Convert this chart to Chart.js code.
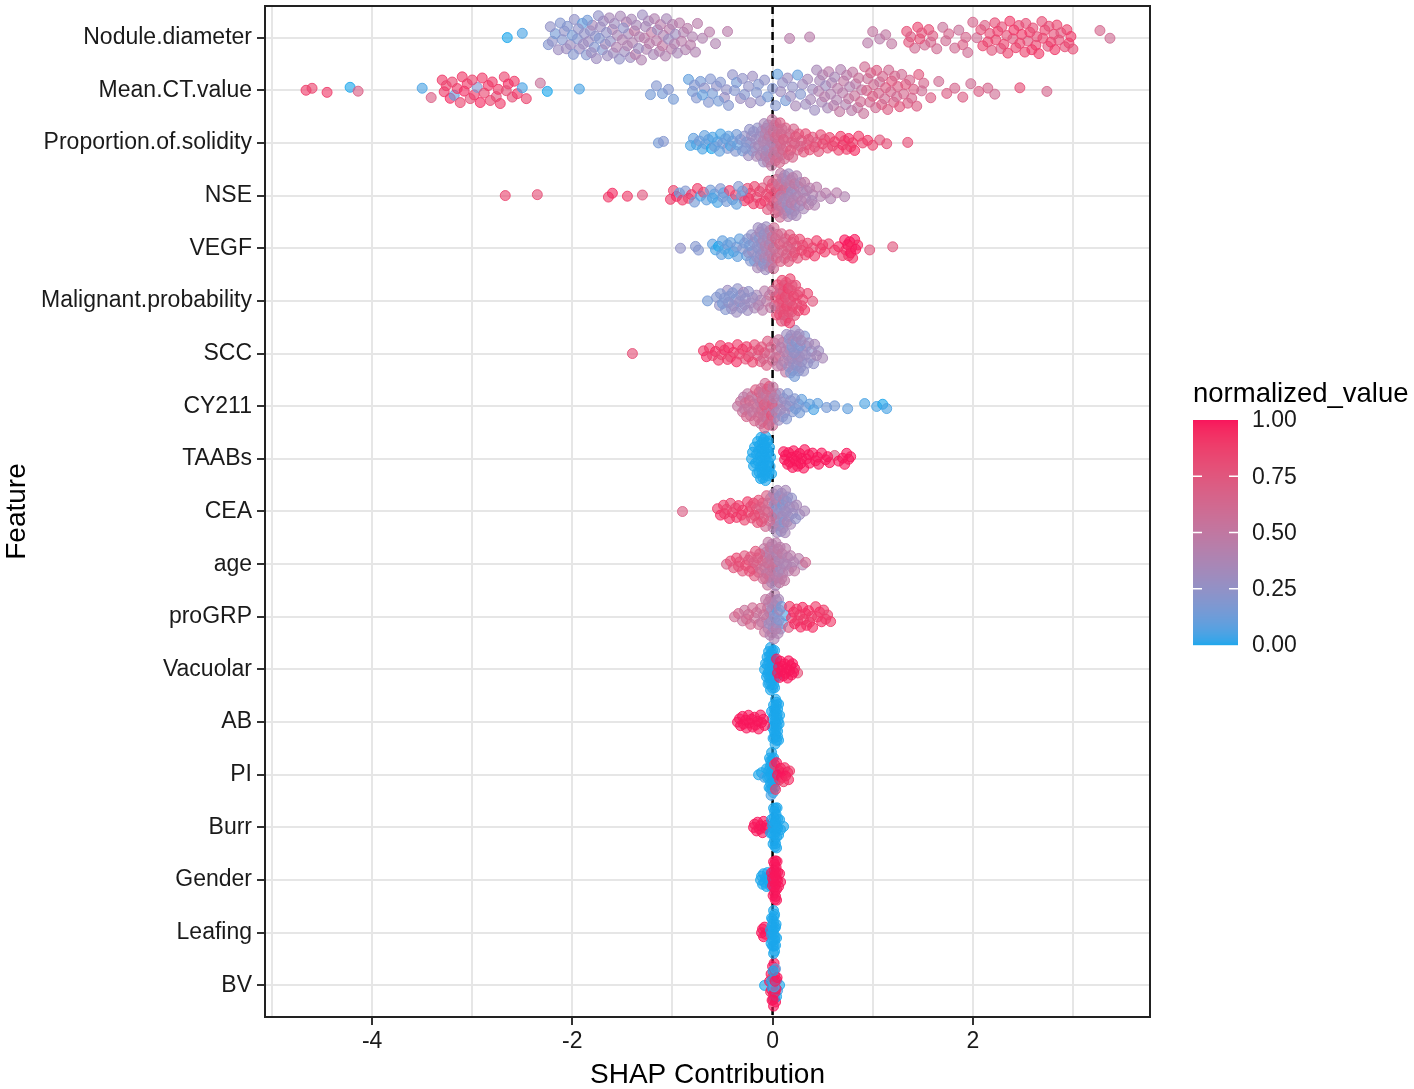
<!DOCTYPE html>
<html>
<head>
<meta charset="utf-8">
<script src="https://cdn.jsdelivr.net/npm/chart.js@4.4.1/dist/chart.umd.min.js"></script>
<style>
html,body{margin:0;padding:0;background:#ffffff;}
#wrap{width:1414px;height:1089px;position:relative;overflow:hidden;}
</style>
</head>
<body>
<div id="wrap"><canvas id="c" width="1414" height="1089"></canvas></div>
<script>
// ---------------- DATA ----------------
const featureNames = ["Nodule.diameter","Mean.CT.value","Proportion.of.solidity","NSE","VEGF",
  "Malignant.probability","SCC","CY211","TAABs","CEA","age","proGRP","Vacuolar","AB","PI",
  "Burr","Gender","Leafing","BV"];

const xTickLabels = [-4,-2,0,2];
const xGridValues = [-5,-4,-3,-2,-1,0,1,2,3];
const legendTickValues = [0,0.25,0.5,0.75,1];
const legendTickLabels = ["0.00","0.25","0.50","0.75","1.00"];

// each point: [SHAP contribution, normalized feature value]
const noduleDiameter = [[-2.65,0],[-2.50,0.05],[-2.24,0.2],[-2.20,0.25],[-2.17,0.15],[-2.14,0.3],[-2.10,0.2],[-2.08,0.25],[-2.05,0.2],[-2.02,0.3],[-2.00,0.15],[-1.98,0.25],[-1.95,0.2],[-1.93,0.3],[-1.90,0.1],[-1.88,0.25],[-1.86,0.2],[-1.84,0.3],[-1.82,0.25],[-1.80,0.35],[-1.78,0.2],[-1.76,0.3],[-1.74,0.25],[-1.72,0.3],[-1.70,0.2],[-1.67,0.35],[-1.65,0.3],[-1.62,0.25],[-1.60,0.4],[-1.58,0.3],[-1.55,0.35],[-1.53,0.25],[-1.50,0.4],[-1.48,0.3],[-1.46,0.45],[-1.44,0.35],[-1.42,0.3],[-1.40,0.4],[-1.38,0.5],[-1.36,0.35],[-1.33,0.4],[-1.30,0.3],[-1.28,0.45],[-1.26,0.4],[-1.24,0.35],[-1.21,0.5],[-1.18,0.4],[-1.15,0.3],[-1.12,0.45],[-1.09,0.4],[-1.06,0.35],[-1.03,0.45],[-1.00,0.4],[-0.97,0.3],[-0.93,0.45],[-0.89,0.4],[-0.85,0.45],[-0.80,0.4],[-0.75,0.45],[-0.70,0.4],[-0.63,0.45],[-0.57,0.4],[-0.45,0.45],
 [-2.22,0.25],[-2.12,0.2],[-2.06,0.3],[-1.99,0.2],[-1.94,0.25],[-1.89,0.3],[-1.85,0.15],[-1.81,0.3],[-1.77,0.25],[-1.73,0.2],[-1.69,0.3],[-1.66,0.25],[-1.63,0.35],[-1.59,0.3],[-1.56,0.4],[-1.52,0.35],[-1.49,0.25],[-1.45,0.4],[-1.41,0.35],[-1.37,0.45],[-1.34,0.3],[-1.31,0.4],[-1.27,0.35],[-1.23,0.45],[-1.19,0.35],[-1.16,0.45],[-1.13,0.4],[-1.10,0.5],[-1.07,0.4],[-1.04,0.3],[-1.01,0.45],[-0.98,0.4],[-0.95,0.35],[-0.91,0.45],[-0.87,0.4],[-0.82,0.45],[-0.77,0.4],
 [0.17,0.45],[0.37,0.45],[0.95,0.45],[1.00,0.5],[1.07,0.45],[1.13,0.5],[1.19,0.5],[1.34,0.8],[1.38,0.7],[1.42,0.6],[1.45,0.85],[1.49,0.75],[1.52,0.6],[1.56,0.8],[1.60,0.7],[1.64,0.6],[1.70,0.55],[1.76,0.65],[1.82,0.6],[1.86,0.55],[1.90,0.7],[1.95,0.6],[2.00,0.65],[2.04,0.6],[2.08,0.8],[2.12,0.7],[2.15,0.85],[2.19,0.75],[2.22,0.8],[2.25,0.9],[2.28,0.7],[2.31,0.85],[2.34,0.8],[2.37,0.9],[2.40,0.75],[2.43,0.85],[2.46,0.8],[2.49,0.9],[2.52,0.85],[2.55,0.75],[2.57,0.9],[2.60,0.8],[2.63,0.85],[2.66,0.9],[2.69,0.8],[2.72,0.85],[2.75,0.75],[2.78,0.9],[2.81,0.8],[2.84,0.85],[2.88,0.75],[2.92,0.8],[2.96,0.85],[3.00,0.8],[3.27,0.65],[3.37,0.6],
 [1.36,0.75],[1.47,0.8],[1.58,0.65],[1.73,0.6],[1.93,0.65],[2.10,0.85],[2.17,0.8],[2.23,0.85],[2.29,0.8],[2.35,0.85],[2.41,0.9],[2.47,0.85],[2.53,0.8],[2.59,0.9],[2.64,0.8],[2.70,0.85],[2.76,0.8],[2.82,0.9],[2.86,0.8],[2.94,0.85],[2.98,0.9]];

const meanCTValue = [[-4.66,0.9],[-4.60,0.85],[-4.45,0.9],[-4.22,0],[-4.14,0.7],
 [-3.50,0.05],[-3.41,0.7],[-3.30,0.9],[-3.26,0.85],[-3.22,0.95],[-3.18,0.1],[-3.15,0.9],[-3.12,0.85],[-3.08,0.95],[-3.05,0.9],[-3.02,0.8],[-2.98,0.9],[-2.95,0.2],[-2.92,0.95],[-2.88,0.85],[-2.84,0.9],[-2.80,0.9],[-2.76,0.75],[-2.72,0.9],[-2.68,0.85],[-2.64,0.95],[-2.60,0.8],[-2.55,0.9],[-2.50,0.05],[-2.46,0.85],[-2.32,0.55],[-2.25,0],[-1.93,0.05],
 [-3.28,0.9],[-3.20,0.85],[-3.10,0.9],[-3.00,0.85],[-2.90,0.9],[-2.82,0.85],[-2.74,0.9],[-2.66,0.8],[-2.58,0.9],
 [-1.22,0.15],[-1.16,0.2],[-1.10,0.15],[-1.04,0.2],[-0.99,0.15],[-0.84,0.1],[-0.80,0.15],[-0.76,0.2],[-0.72,0.15],[-0.68,0.25],[-0.64,0.2],[-0.60,0.15],[-0.56,0.25],[-0.52,0.2],[-0.48,0.3],[-0.44,0.2],[-0.40,0.25],[-0.36,0.15],[-0.32,0.3],[-0.28,0.2],[-0.24,0.25],[-0.20,0.3],[-0.16,0.2],[-0.12,0.25],[-0.05,0.15],[0.00,0.2],[0.05,0.1],[0.10,0.25],[0.15,0.3],[0.20,0.25],[0.25,0.1],[0.30,0.3],[0.35,0.35],[0.40,0.3],[0.44,0.35],
 [-0.78,0.2],[-0.70,0.1],[-0.62,0.2],[-0.54,0.15],[-0.46,0.25],[-0.38,0.2],[-0.30,0.25],[-0.22,0.3],[-0.14,0.2],[-0.08,0.25],[0.03,0.2],[0.08,0.3],[0.13,0.15],[0.18,0.3],[0.23,0.35],[0.28,0.2],[0.33,0.3],[0.38,0.35],[0.42,0.3],
 [0.47,0.35],[0.50,0.4],[0.53,0.3],[0.56,0.45],[0.59,0.4],[0.62,0.35],[0.65,0.45],[0.68,0.4],[0.71,0.5],[0.74,0.45],[0.77,0.4],[0.80,0.5],[0.83,0.45],[0.86,0.55],[0.89,0.5],[0.92,0.6],[0.95,0.55],[0.98,0.65],[1.01,0.6],[1.04,0.7],[1.07,0.55],[1.10,0.65],[1.13,0.7],[1.16,0.6],[1.19,0.75],[1.22,0.65],[1.25,0.7],[1.29,0.6],[1.33,0.75],[1.37,0.65],[1.41,0.7],[1.46,0.75],[1.51,0.65],[1.58,0.7],[1.66,0.6],[1.74,0.7],[1.82,0.65],[1.90,0.7],[1.98,0.6],[2.06,0.7],[2.15,0.65],[2.22,0.6],[2.47,0.8],[2.74,0.65],
 [0.46,0.4],[0.49,0.35],[0.52,0.45],[0.55,0.35],[0.58,0.4],[0.61,0.45],[0.64,0.4],[0.67,0.5],[0.70,0.45],[0.73,0.4],[0.76,0.5],[0.79,0.45],[0.82,0.55],[0.85,0.5],[0.88,0.6],[0.91,0.55],[0.94,0.65],[0.97,0.6],[1.00,0.7],[1.03,0.6],[1.06,0.65],[1.09,0.7],[1.12,0.6],[1.15,0.7],[1.18,0.65],[1.21,0.7],[1.24,0.6],[1.27,0.75],[1.31,0.65],[1.35,0.7],[1.39,0.65],[1.44,0.7],[1.49,0.6]];

const proportionOfSolidity = [[-1.14,0.15],[-1.09,0.2],[-0.82,0.05],[-0.79,0.1],[-0.76,0.05],[-0.73,0.15],[-0.70,0.05],[-0.67,0.1],[-0.64,0.1],[-0.61,0],[-0.58,0.15],[-0.55,0.1],[-0.52,0.05],[-0.50,0.15],[-0.47,0.1],[-0.45,0.2],[-0.42,0.05],[-0.40,0.15],[-0.37,0.2],[-0.35,0.1],[-0.32,0.2],[-0.30,0.15],[-0.28,0.25],[-0.26,0.2],[-0.24,0.3],[-0.22,0.25],[-0.20,0.2],[-0.18,0.3],[-0.16,0.35],[-0.15,0.25],[-0.13,0.3],[-0.12,0.4],[-0.10,0.35],[-0.09,0.3],[-0.08,0.4],[-0.07,0.45],[-0.06,0.35],[-0.05,0.4],[-0.04,0.3],[-0.03,0.45],[-0.02,0.4],[-0.01,0.5],[0.00,0.45],[0.01,0.55],[0.02,0.5],[0.03,0.6],[0.04,0.55],[0.05,0.6],[0.06,0.5],[0.07,0.65],[0.08,0.6],[0.09,0.55],[0.10,0.65],[0.12,0.6],[0.13,0.7],[0.15,0.65],[0.17,0.6],[0.19,0.7],[0.21,0.65],[0.23,0.75],[0.25,0.7],[0.28,0.65],[0.31,0.75],[0.34,0.7],[0.37,0.8],[0.40,0.75],[0.44,0.7],[0.48,0.8],[0.52,0.75],[0.57,0.85],[0.62,0.9],[0.66,0.85],[0.70,0.95],[0.74,0.9],[0.78,0.85],[0.82,0.95],[0.86,0.9],[0.90,0.85],[0.95,0.9],[1.00,0.85],[1.07,0.75],[1.14,0.8],[1.35,0.8],
 [-0.27,0.2],[-0.23,0.25],[-0.21,0.3],[-0.19,0.25],[-0.17,0.3],[-0.14,0.35],[-0.11,0.3],[-0.095,0.4],[-0.085,0.35],[-0.075,0.4],[-0.065,0.45],[-0.055,0.4],[-0.045,0.35],[-0.035,0.5],[-0.025,0.45],[-0.015,0.4],[-0.005,0.5],[0.005,0.55],[0.015,0.5],[0.025,0.6],[0.035,0.55],[0.045,0.65],[0.055,0.55],[0.065,0.6],[0.075,0.7],[0.085,0.65],[0.095,0.6],[0.11,0.7],[0.14,0.65],[0.16,0.7],[0.18,0.75],[0.20,0.65],[0.22,0.7],[0.26,0.75],[0.29,0.7],[0.33,0.8],[0.36,0.75],[-0.36,0.15],[-0.44,0.1],[-0.53,0.1],[-0.60,0.05],[-0.68,0.1],[0.42,0.8],[0.46,0.75],[0.50,0.85],[0.55,0.8],[0.60,0.85],[0.68,0.9],[0.72,0.85],[0.76,0.95],[0.80,0.9]];

const nse = [[-2.67,0.85],[-2.35,0.8],[-1.64,0.9],[-1.60,0.95],[-1.45,0.9],[-1.30,0.75],
 [-1.02,0.9],[-0.99,0.85],[-0.96,0.95],[-0.93,0.1],[-0.90,0.9],[-0.87,0.2],[-0.84,0.85],[-0.81,0.9],[-0.78,0.15],[-0.75,0.9],[-0.72,0.05],[-0.69,0.85],[-0.66,0.1],[-0.62,0.15],[-0.58,0.1],[-0.55,0.05],[-0.52,0.2],[-0.49,0.1],[-0.46,0.15],[-0.43,0.9],[-0.40,0.1],[-0.37,0.85],[-0.34,0.2],[-0.31,0.15],[-0.28,0.9],[-0.25,0.8],[-0.22,0.85],[-0.19,0.9],[-0.16,0.8],[-0.13,0.85],[-0.10,0.75],[-0.08,0.9],[-0.06,0.8],[-0.04,0.7],[-0.02,0.85],[0.00,0.75],[0.02,0.8],[0.04,0.65],[0.05,0.7],[0.06,0.55],[0.07,0.75],[0.08,0.5],[0.09,0.6],[0.10,0.45],[0.11,0.7],[0.12,0.4],[0.13,0.55],[0.14,0.35],[0.15,0.6],[0.16,0.3],[0.17,0.5],[0.18,0.4],[0.19,0.25],[0.20,0.45],[0.21,0.35],[0.22,0.5],[0.23,0.3],[0.24,0.4],[0.26,0.45],[0.28,0.35],[0.30,0.4],[0.32,0.5],[0.34,0.35],[0.37,0.45],[0.40,0.4],[0.44,0.45],[0.48,0.4],[0.53,0.45],[0.58,0.4],[0.64,0.45],[0.72,0.4],
 [-0.05,0.75],[-0.03,0.85],[-0.01,0.7],[0.01,0.8],[0.03,0.7],[0.045,0.6],[0.055,0.65],[0.065,0.5],[0.075,0.6],[0.085,0.45],[0.095,0.55],[0.105,0.4],[0.115,0.5],[0.125,0.35],[0.135,0.45],[0.145,0.3],[0.155,0.4],[0.165,0.35],[0.175,0.25],[0.185,0.45],[0.195,0.3],[0.205,0.4],[0.215,0.3],[0.225,0.45],[0.235,0.35],[0.25,0.4],[0.27,0.3],[0.29,0.45],[0.31,0.35],[0.33,0.4],[0.36,0.45],[0.39,0.35],[0.42,0.4],[-0.12,0.9],[-0.18,0.85],[-0.24,0.9],[-0.30,0.15],[-0.36,0.1],[-0.50,0.15],[-0.60,0.05]];

const vegf = [[-0.92,0.25],[-0.77,0.2],[-0.74,0.2],[-0.60,0.1],[-0.57,0.05],[-0.54,0],[-0.51,0.1],[-0.48,0.05],[-0.45,0.15],[-0.42,0.1],[-0.39,0.05],[-0.36,0.15],[-0.33,0.1],[-0.30,0.2],[-0.28,0.15],[-0.26,0.1],[-0.24,0.25],[-0.22,0.2],[-0.20,0.3],[-0.18,0.15],[-0.16,0.25],[-0.15,0.35],[-0.14,0.2],[-0.13,0.3],[-0.12,0.25],[-0.11,0.35],[-0.10,0.3],[-0.09,0.2],[-0.08,0.4],[-0.07,0.3],[-0.06,0.35],[-0.05,0.25],[-0.04,0.4],[-0.03,0.35],[-0.02,0.45],[-0.01,0.4],[0.00,0.5],[0.01,0.6],[0.02,0.55],[0.04,0.65],[0.06,0.6],[0.08,0.7],[0.10,0.65],[0.12,0.6],[0.14,0.7],[0.16,0.75],[0.18,0.65],[0.20,0.7],[0.22,0.8],[0.24,0.75],[0.27,0.85],[0.30,0.8],[0.33,0.85],[0.36,0.9],[0.40,0.85],[0.44,0.9],[0.48,0.85],[0.52,0.9],[0.56,0.85],[0.62,0.9],[0.66,0.95],[0.70,0.9],[0.72,1],[0.73,0.95],[0.75,1],[0.76,0.9],[0.78,1],[0.80,0.95],[0.82,1],[0.85,0.95],[0.97,0.75],[1.20,0.75],
 [-0.25,0.2],[-0.23,0.15],[-0.21,0.25],[-0.19,0.2],[-0.17,0.3],[-0.155,0.25],[-0.145,0.3],[-0.135,0.2],[-0.125,0.35],[-0.115,0.25],[-0.105,0.3],[-0.095,0.35],[-0.085,0.25],[-0.075,0.4],[-0.065,0.3],[-0.055,0.35],[-0.045,0.3],[-0.035,0.45],[-0.025,0.4],[-0.015,0.35],[-0.005,0.5],[0.005,0.55],[0.015,0.6],[0.03,0.65],[0.05,0.6],[0.07,0.7],[0.09,0.65],[0.11,0.7],[0.13,0.65],[0.15,0.7],[0.17,0.75],[0.19,0.7],[0.21,0.8],[0.25,0.8],[0.29,0.85],[0.35,0.85],[0.42,0.9],[0.50,0.9],[-0.35,0.1],[-0.44,0.05],[-0.50,0.1],[0.77,1],[0.79,0.95],[0.83,1]];

const malignantProbability = [[-0.65,0.15],[-0.56,0.2],[-0.53,0.25],[-0.50,0.15],[-0.47,0.2],[-0.45,0.3],[-0.43,0.2],[-0.41,0.25],[-0.39,0.3],[-0.37,0.2],[-0.35,0.25],[-0.33,0.3],[-0.31,0.2],[-0.29,0.35],[-0.27,0.25],[-0.25,0.3],[-0.22,0.3],[-0.18,0.35],[-0.14,0.4],[-0.10,0.45],[-0.06,0.5],[-0.03,0.55],[0.02,0.7],[0.04,0.8],[0.06,0.75],[0.07,0.85],[0.08,0.7],[0.09,0.8],[0.10,0.75],[0.11,0.85],[0.12,0.8],[0.13,0.7],[0.14,0.85],[0.15,0.75],[0.16,0.8],[0.17,0.9],[0.18,0.7],[0.19,0.8],[0.20,0.85],[0.22,0.75],[0.24,0.8],[0.26,0.85],[0.29,0.8],[0.32,0.9],[0.35,0.85],[0.40,0.75],
 [0.03,0.75],[0.05,0.8],[0.065,0.85],[0.075,0.75],[0.085,0.8],[0.095,0.85],[0.105,0.7],[0.115,0.8],[0.125,0.85],[0.135,0.75],[0.145,0.8],[0.155,0.9],[0.165,0.75],[0.175,0.85],[0.185,0.8],[0.195,0.75],[0.21,0.85],[0.23,0.8],[0.25,0.85],[0.27,0.8],[0.30,0.85],[0.00,0.6],[-0.02,0.5],[-0.08,0.45],[-0.12,0.4],[-0.16,0.35],[-0.20,0.3],[-0.24,0.25],[-0.28,0.3],[-0.32,0.25],[-0.36,0.3],[-0.40,0.2],[-0.44,0.25],[-0.48,0.2],[-0.52,0.2]];

const scc = [[-1.40,0.8],[-0.69,0.9],[-0.66,0.95],[-0.63,0.9],[-0.60,0.85],[-0.57,0.95],[-0.54,0.9],[-0.51,0.85],[-0.48,0.95],[-0.45,0.9],[-0.42,0.85],[-0.39,0.9],[-0.36,0.95],[-0.33,0.85],[-0.30,0.9],[-0.27,0.8],[-0.24,0.85],[-0.21,0.75],[-0.18,0.8],[-0.15,0.7],[-0.12,0.75],[-0.09,0.65],[-0.06,0.7],[-0.03,0.6],[0.00,0.65],[0.03,0.55],[0.05,0.5],[0.07,0.6],[0.09,0.45],[0.11,0.4],[0.13,0.5],[0.15,0.35],[0.16,0.3],[0.17,0.4],[0.18,0.2],[0.19,0.35],[0.20,0.25],[0.21,0.3],[0.22,0.15],[0.23,0.35],[0.24,0.25],[0.25,0.3],[0.26,0.2],[0.27,0.35],[0.28,0.25],[0.30,0.3],[0.32,0.2],[0.34,0.35],[0.36,0.3],[0.39,0.25],[0.42,0.35],[0.46,0.3],[0.50,0.35],
 [0.10,0.4],[0.12,0.45],[0.14,0.3],[0.155,0.35],[0.165,0.25],[0.175,0.35],[0.185,0.3],[0.195,0.2],[0.205,0.35],[0.215,0.25],[0.225,0.3],[0.235,0.2],[0.245,0.35],[0.255,0.25],[0.265,0.3],[0.275,0.2],[0.285,0.35],[0.29,0.3],[0.31,0.25],[0.33,0.3],[0.35,0.25],[0.38,0.3],[0.41,0.25],[0.44,0.35],[0.02,0.6],[0.04,0.55],[0.06,0.5],[0.08,0.45],[-0.02,0.65],[-0.05,0.7],[-0.08,0.7],[-0.11,0.75],[-0.14,0.8],[-0.20,0.85],[-0.26,0.9],[-0.35,0.9],[-0.44,0.95],[-0.52,0.9]];

const cy211 = [[-0.35,0.5],[-0.32,0.55],[-0.29,0.45],[-0.27,0.6],[-0.25,0.5],[-0.23,0.65],[-0.21,0.55],[-0.19,0.6],[-0.17,0.7],[-0.15,0.5],[-0.13,0.65],[-0.12,0.55],[-0.11,0.7],[-0.10,0.6],[-0.09,0.5],[-0.08,0.65],[-0.07,0.75],[-0.06,0.55],[-0.05,0.6],[-0.04,0.7],[-0.03,0.5],[-0.02,0.65],[-0.01,0.8],[0.00,0.55],[0.01,0.45],[0.02,0.6],[0.03,0.35],[0.05,0.4],[0.07,0.3],[0.09,0.35],[0.11,0.25],[0.13,0.3],[0.15,0.2],[0.17,0.25],[0.20,0.2],[0.23,0.15],[0.26,0.2],[0.29,0.1],[0.33,0.15],[0.37,0.1],[0.41,0.05],[0.45,0.1],[0.54,0.15],[0.62,0.15],[0.75,0.1],[0.92,0.05],[1.04,0.05],[1.10,0],[1.14,0.05],
 [-0.30,0.55],[-0.28,0.5],[-0.26,0.65],[-0.24,0.55],[-0.22,0.6],[-0.20,0.5],[-0.18,0.65],[-0.16,0.55],[-0.145,0.6],[-0.135,0.7],[-0.125,0.5],[-0.115,0.6],[-0.105,0.65],[-0.095,0.55],[-0.085,0.7],[-0.075,0.6],[-0.065,0.5],[-0.055,0.65],[-0.045,0.6],[-0.035,0.75],[-0.025,0.55],[-0.015,0.6],[-0.005,0.7],[0.005,0.5],[0.015,0.4],[0.04,0.35],[0.06,0.3],[0.08,0.35],[0.10,0.25],[0.12,0.3],[0.14,0.2],[0.18,0.25],[0.22,0.2],[0.27,0.15]];

const taabs = [[-0.21,0],[-0.19,0],[-0.17,0],[-0.16,0],[-0.15,0],[-0.14,0],[-0.13,0],[-0.12,0],[-0.12,0],[-0.11,0],[-0.11,0],[-0.10,0],[-0.10,0],[-0.09,0],[-0.09,0],[-0.08,0],[-0.08,0],[-0.07,0],[-0.07,0],[-0.06,0],[-0.06,0],[-0.05,0],[-0.05,0],[-0.04,0],[-0.03,0],[-0.02,0],[-0.01,0],
 [-0.20,0],[-0.18,0],[-0.155,0],[-0.145,0],[-0.135,0],[-0.125,0],[-0.115,0],[-0.105,0],[-0.095,0],[-0.085,0],[-0.075,0],[-0.065,0],[-0.055,0],[-0.045,0],[-0.035,0],[-0.025,0],[-0.10,0],[-0.08,0],[-0.06,0],[-0.04,0],
 [0.11,1],[0.13,1],[0.15,1],[0.17,1],[0.19,1],[0.21,1],[0.23,1],[0.25,1],[0.27,1],[0.29,1],[0.31,1],[0.34,1],[0.37,1],[0.40,1],[0.43,1],[0.46,1],[0.49,1],[0.53,1],[0.57,1],[0.62,0.7],[0.66,1],[0.70,1],[0.74,1],[0.78,1],
 [0.12,1],[0.16,1],[0.20,1],[0.24,1],[0.28,1],[0.32,1],[0.36,1],[0.45,1],[0.55,1],[0.72,1],[0.76,1]];

const cea = [[-0.90,0.7],[-0.55,0.9],[-0.52,0.95],[-0.49,0.9],[-0.46,0.85],[-0.43,0.95],[-0.40,0.9],[-0.37,0.85],[-0.34,0.9],[-0.31,0.95],[-0.28,0.85],[-0.25,0.9],[-0.22,0.8],[-0.19,0.85],[-0.16,0.75],[-0.14,0.8],[-0.12,0.7],[-0.10,0.75],[-0.08,0.65],[-0.06,0.7],[-0.04,0.6],[-0.02,0.55],[0.00,0.5],[0.01,0.4],[0.02,0.3],[0.03,0.45],[0.04,0.2],[0.05,0.35],[0.06,0.4],[0.07,0.25],[0.08,0.35],[0.09,0.3],[0.10,0.15],[0.11,0.4],[0.12,0.3],[0.13,0.35],[0.14,0.2],[0.15,0.3],[0.17,0.35],[0.19,0.25],[0.21,0.3],[0.24,0.35],[0.27,0.3],[0.32,0.35],
 [0.005,0.4],[0.015,0.35],[0.025,0.4],[0.035,0.3],[0.045,0.35],[0.055,0.25],[0.065,0.4],[0.075,0.3],[0.085,0.25],[0.095,0.35],[0.105,0.3],[0.115,0.2],[0.125,0.35],[0.135,0.3],[0.145,0.4],[0.16,0.3],[0.18,0.35],[0.20,0.3],[0.23,0.25],[-0.01,0.5],[-0.03,0.6],[-0.05,0.65],[-0.07,0.6],[-0.09,0.7],[-0.11,0.75],[-0.13,0.7],[-0.15,0.8],[-0.18,0.85],[-0.21,0.8],[-0.24,0.85],[-0.30,0.9],[-0.36,0.9],[-0.42,0.85],[-0.48,0.9]];

const age = [[-0.46,0.65],[-0.42,0.8],[-0.39,0.75],[-0.36,0.85],[-0.33,0.8],[-0.30,0.75],[-0.27,0.85],[-0.24,0.8],[-0.22,0.7],[-0.20,0.8],[-0.18,0.75],[-0.16,0.65],[-0.14,0.7],[-0.12,0.6],[-0.10,0.65],[-0.08,0.55],[-0.07,0.6],[-0.06,0.5],[-0.05,0.55],[-0.04,0.45],[-0.03,0.6],[-0.02,0.5],[-0.01,0.4],[0.00,0.55],[0.01,0.45],[0.02,0.5],[0.03,0.35],[0.04,0.55],[0.05,0.45],[0.06,0.4],[0.07,0.5],[0.08,0.3],[0.09,0.45],[0.10,0.4],[0.12,0.5],[0.14,0.35],[0.16,0.45],[0.19,0.4],[0.22,0.5],[0.26,0.45],[0.30,0.4],[0.33,0.6],
 [-0.095,0.6],[-0.085,0.5],[-0.075,0.55],[-0.065,0.45],[-0.055,0.6],[-0.045,0.5],[-0.035,0.45],[-0.025,0.55],[-0.015,0.5],[-0.005,0.45],[0.005,0.5],[0.015,0.4],[0.025,0.55],[0.035,0.45],[0.045,0.4],[0.055,0.5],[0.065,0.35],[0.075,0.45],[0.085,0.4],[0.095,0.5],[0.11,0.4],[0.13,0.45],[0.15,0.4],[0.18,0.45],[0.21,0.4],[-0.13,0.65],[-0.15,0.7],[-0.17,0.75],[-0.19,0.7],[-0.23,0.8],[-0.28,0.75],[-0.34,0.8]];

const proGRP = [[-0.38,0.6],[-0.34,0.65],[-0.30,0.55],[-0.26,0.6],[-0.22,0.65],[-0.18,0.55],[-0.14,0.6],[-0.11,0.5],[-0.08,0.55],[-0.06,0.45],[-0.04,0.5],[-0.03,0.35],[-0.02,0.45],[-0.01,0.3],[0.00,0.4],[0.01,0.2],[0.02,0.45],[0.03,0.3],[0.04,0.4],[0.05,0.1],[0.06,0.35],[0.08,0.25],[0.10,0.1],[0.13,0.05],[0.16,0.7],[0.19,0.9],[0.22,0.95],[0.25,0.9],[0.28,0.95],[0.31,0.9],[0.34,0.95],[0.37,0.9],[0.40,0.95],[0.43,0.9],[0.47,0.95],[0.51,0.9],[0.55,0.85],[0.58,0.9],
 [-0.05,0.4],[-0.045,0.45],[-0.035,0.3],[-0.025,0.4],[-0.015,0.35],[-0.005,0.45],[0.005,0.3],[0.015,0.4],[0.025,0.25],[0.035,0.45],[0.045,0.3],[0.055,0.4],[0.065,0.2],[0.07,0.35],[0.09,0.15],[-0.07,0.5],[-0.09,0.55],[-0.12,0.6],[-0.16,0.55],[-0.20,0.6],[-0.24,0.65],[-0.28,0.55],[0.17,0.9],[0.21,0.95],[0.24,0.9],[0.27,0.9],[0.30,0.95],[0.33,0.9],[0.36,0.95],[0.39,0.9],[0.45,0.9],[0.49,0.95],[0.53,0.9]];

const vacuolar = [[-0.08,0],[-0.06,0],[-0.05,0],[-0.04,0],[-0.03,0],[-0.03,0],[-0.02,0],[-0.02,0],[-0.01,0],[-0.01,0],[0.00,0],[0.00,0],[0.01,0],[0.01,0],[0.02,0],[0.03,0],[0.04,0],
 [-0.07,0],[-0.055,0],[-0.045,0],[-0.035,0],[-0.025,0],[-0.015,0],[-0.005,0],[0.005,0],[0.015,0],[0.025,0],[-0.03,0],[-0.02,0],[-0.01,0],[0.00,0],[0.01,0],[-0.04,0],[0.02,0],[-0.05,0],
 [0.04,1],[0.06,1],[0.08,1],[0.10,1],[0.12,1],[0.14,1],[0.16,1],[0.18,1],[0.20,1],[0.22,1],[0.25,0.8],
 [0.05,1],[0.07,1],[0.09,1],[0.11,1],[0.13,1],[0.15,1],[0.17,1],[0.19,1],[0.21,1]];

const ab = [[-0.01,0],[0.00,0],[0.01,0],[0.02,0],[0.02,0],[0.03,0],[0.03,0],[0.03,0],[0.04,0],[0.04,0],[0.05,0],[0.05,0],[0.06,0],[0.07,0],
 [0.005,0],[0.015,0],[0.025,0],[0.035,0],[0.045,0],[0.055,0],[0.065,0],[0.02,0],[0.03,0],[0.04,0],[0.01,0],[0.05,0],[0.00,0],[0.06,0],[0.035,0],[0.025,0],[0.045,0],
 [-0.35,1],[-0.32,1],[-0.29,1],[-0.26,1],[-0.23,1],[-0.20,1],[-0.17,1],[-0.14,1],[-0.11,1],[-0.08,1],
 [-0.33,1],[-0.30,1],[-0.27,1],[-0.24,1],[-0.21,1],[-0.18,1],[-0.15,1],[-0.12,1],[-0.09,1]];

const pi = [[-0.14,0],[-0.11,0],[-0.08,0.05],[-0.05,0],[-0.04,0],[-0.03,0],[-0.02,0],[-0.02,0],[-0.01,0],[-0.01,0],[0.00,0],[0.00,0],[0.01,0],[0.02,0],[0.03,0.1],
 [-0.035,0],[-0.025,0],[-0.015,0],[-0.005,0],[0.005,0],[0.015,0],[-0.02,0],[-0.01,0],[0.00,0],[0.01,0],[-0.03,0],[-0.06,0],[0.025,0],[-0.015,0.05],
 [0.02,0.9],[0.04,1],[0.06,0.9],[0.08,1],[0.10,1],[0.12,0.95],[0.15,1],[0.17,0.9],
 [0.03,0.9],[0.05,1],[0.07,0.95],[0.09,1],[0.11,0.9],[0.13,1],[0.16,0.95]];

const burr = [[-0.19,1],[-0.16,1],[-0.13,1],[-0.10,1],[-0.07,1],[-0.18,1],[-0.15,1],[-0.12,1],[-0.09,1],[-0.06,1],
 [-0.02,0],[0.00,0],[0.01,0],[0.02,0],[0.02,0],[0.03,0],[0.03,0],[0.04,0],[0.04,0],[0.05,0],[0.06,0],[0.08,0],[0.11,0],
 [-0.01,0],[0.005,0],[0.015,0],[0.025,0],[0.035,0],[0.045,0],[0.02,0],[0.03,0],[0.04,0],[0.01,0],[0.03,0],[0.05,0],[0.07,0],[0.00,0],[0.025,0]];

const gender = [[-0.12,0],[-0.10,0],[-0.08,0],[-0.06,0],[-0.04,0],[-0.02,0],[-0.11,0],[-0.09,0],[-0.07,0],[-0.05,0],[-0.03,0],
 [-0.01,1],[0.00,1],[0.01,1],[0.02,1],[0.02,1],[0.03,1],[0.03,1],[0.04,1],[0.04,1],[0.05,1],[0.06,1],[0.08,1],
 [0.005,1],[0.015,1],[0.025,1],[0.035,1],[0.045,1],[0.02,1],[0.03,1],[0.04,1],[0.01,1],[0.03,1],[0.05,1],[0.00,1],[0.025,1],[0.07,1]];

const leafing = [[-0.11,1],[-0.09,1],[-0.07,1],[-0.10,1],[-0.08,1],
 [-0.02,0],[-0.01,0],[0.00,0],[0.00,0],[0.01,0],[0.01,0],[0.02,0],[0.02,0],[0.03,0],[0.04,0],
 [-0.015,0],[-0.005,0],[0.005,0],[0.015,0],[0.025,0],[0.035,0],[0.01,0],[0.02,0],[0.00,0],[0.01,0],[0.02,0],[-0.01,0],[0.03,0],[0.015,0]];

const bv = [[-0.08,0],[-0.03,1],[-0.02,0.9],[-0.01,1],[0.00,1],[0.00,0],[0.01,1],[0.01,0.1],[0.02,1],[0.02,0],[0.03,1],[0.04,1],[0.05,0.05],[0.07,0],[0.04,0],
 [-0.015,1],[-0.005,1],[0.005,1],[0.015,1],[0.025,1],[0.035,1],[0.01,1],[0.02,1],[0.00,0.9],[0.03,0.1],[-0.01,0],[0.015,0.05],[0.045,1],[0.005,0],[0.025,1]];

const featurePoints = [noduleDiameter, meanCTValue, proportionOfSolidity, nse, vegf,
  malignantProbability, scc, cy211, taabs, cea, age, proGRP, vacuolar, ab, pi,
  burr, gender, leafing, bv];

// ---------------- colour scale (Lab interpolation like ggplot) ----------------
const LOW_RGB = [27,167,236], HIGH_RGB = [248,22,92];
function toLin(c){c/=255;return c<=0.04045?c/12.92:Math.pow((c+0.055)/1.055,2.4);}
function toSrgb(c){const v=c<=0.0031308?12.92*c:1.055*Math.pow(c,1/2.4)-0.055;return Math.round(Math.max(0,Math.min(1,v))*255);}
function rgb2lab(rgb){
  const r=toLin(rgb[0]),g=toLin(rgb[1]),b=toLin(rgb[2]);
  const x=(0.4124*r+0.3576*g+0.1805*b)/0.95047, y=0.2126*r+0.7152*g+0.0722*b, z=(0.0193*r+0.1192*g+0.9505*b)/1.08883;
  const f=t=>t>0.008856?Math.cbrt(t):7.787*t+16/116;
  return [116*f(y)-16,500*(f(x)-f(y)),200*(f(y)-f(z))];
}
function lab2rgb(lab){
  const fy=(lab[0]+16)/116, fx=fy+lab[1]/500, fz=fy-lab[2]/200;
  const fi=t=>t*t*t>0.008856?t*t*t:(t-16/116)/7.787;
  const x=fi(fx)*0.95047, y=fi(fy), z=fi(fz)*1.08883;
  return [toSrgb(3.2406*x-1.5372*y-0.4986*z), toSrgb(-0.9689*x+1.8758*y+0.0415*z), toSrgb(0.0557*x-0.2040*y+1.0570*z)];
}
const LOW_LAB=rgb2lab(LOW_RGB), HIGH_LAB=rgb2lab(HIGH_RGB);
function colourAt(v){
  const t=Math.max(0,Math.min(1,v));
  return lab2rgb([0,1,2].map(i=>LOW_LAB[i]+(HIGH_LAB[i]-LOW_LAB[i])*t));
}

// ---------------- sina-style vertical spread (layout only) ----------------
const BW_ADJUST=0.6, HALF_WIDTH=0.45, DENS_REF=0.32, SHAPE_EXP=0.7;
function vdc(k){let v=0,d=1;while(k>0){d*=2;v+=(k%2)/d;k=Math.floor(k/2);}return v;}
function sinaOffsets(xs){
  const n=xs.length;
  const mean=xs.reduce((a,b)=>a+b,0)/n;
  const sd=Math.sqrt(xs.reduce((a,b)=>a+(b-mean)*(b-mean),0)/Math.max(1,n-1));
  const s=[...xs].sort((a,b)=>a-b);
  const q=p=>{const h=(n-1)*p,l=Math.floor(h);return s[l]+(h-l)*(s[Math.min(l+1,n-1)]-s[l]);};
  const iqr=q(0.75)-q(0.25);
  let lo=Math.min(sd,iqr/1.34); if(!(lo>0)) lo=sd||0.05;
  const bw=Math.max(0.012,0.9*lo*Math.pow(n,-0.2)*BW_ADJUST);
  const dens=x=>{let t=0;for(const xi of xs){const z=(x-xi)/bw;t+=Math.exp(-0.5*z*z);}return t/(n*bw*Math.sqrt(2*Math.PI));};
  const d=xs.map(dens); const maxd=Math.max(...d);
  const f=Math.min(1,maxd/DENS_REF);
  const order=xs.map((_,i)=>i).sort((a,b)=>xs[a]-xs[b]);
  const off=new Array(n);
  order.forEach((idx,k)=>{off[idx]=(vdc(k+1)*2-1)*HALF_WIDTH*f*Math.pow(d[idx]/maxd,SHAPE_EXP);});
  return off;
}

const datasets = featurePoints.map((pts,fi)=>{
  const xs=pts.map(p=>p[0]);
  const off=sinaOffsets(xs);
  const cols=pts.map(p=>colourAt(p[1]));
  return {
    label: featureNames[fi],
    data: pts.map((p,i)=>({x:p[0], y:fi+1+off[i]})),
    pointBackgroundColor: cols.map(c=>`rgba(${c[0]},${c[1]},${c[2]},0.62)`),
    pointBorderColor: cols.map(c=>`rgba(${c[0]},${c[1]},${c[2]},0.85)`),
    pointBorderWidth: 1,
    pointRadius: 5,
    pointHoverRadius: 5
  };
});

const FONT = "'Liberation Sans', Arial, Helvetica, sans-serif";

const zeroLine = {
  id:'zeroLine',
  beforeDatasetsDraw(chart){
    const {ctx, chartArea:a, scales:{x}} = chart;
    const px = x.getPixelForValue(0);
    ctx.save();
    ctx.strokeStyle='#000'; ctx.lineWidth=2.5; ctx.setLineDash([8,5]);
    ctx.beginPath(); ctx.moveTo(px,a.top); ctx.lineTo(px,a.bottom); ctx.stroke();
    ctx.restore();
  }
};

const panelBorder = {
  id:'panelBorder',
  afterDatasetsDraw(chart){
    const {ctx, chartArea:a} = chart;
    ctx.save();
    ctx.strokeStyle='#222'; ctx.lineWidth=2;
    ctx.strokeRect(a.left,a.top,a.right-a.left,a.bottom-a.top);
    ctx.restore();
  }
};

const colourLegend = {
  id:'colourLegend',
  afterDraw(chart){
    const ctx=chart.ctx;
    const left=1193, w=45, top=420, bottom=645;
    ctx.save();
    ctx.fillStyle='#000'; ctx.font=`27.5px ${FONT}`; ctx.textBaseline='middle'; ctx.textAlign='left';
    ctx.fillText('normalized_value', left, 394);
    for(let yy=top; yy<bottom; yy++){
      const v=1-(yy-top)/(bottom-top);
      const c=colourAt(v);
      ctx.fillStyle=`rgb(${c[0]},${c[1]},${c[2]})`;
      ctx.fillRect(left,yy,w,1.2);
    }
    ctx.strokeStyle='#ffffff'; ctx.lineWidth=1.5;
    legendTickValues.forEach(v=>{
      const yy=bottom-v*(bottom-top);
      if(v>0 && v<1){
        ctx.beginPath(); ctx.moveTo(left,yy); ctx.lineTo(left+9,yy); ctx.moveTo(left+w-9,yy); ctx.lineTo(left+w,yy); ctx.stroke();
      }
    });
    ctx.fillStyle='#1a1a1a'; ctx.font=`23px ${FONT}`;
    legendTickValues.forEach((v,i)=>{
      const yy=bottom-v*(bottom-top)+1;
      ctx.fillText(legendTickLabels[i], 1252, yy);
    });
    ctx.restore();
  }
};

new Chart(document.getElementById('c').getContext('2d'), {
  type:'scatter',
  data:{datasets},
  options:{
    responsive:false, animation:false, devicePixelRatio:1,
    layout:{padding:{left:0,right:264,top:5,bottom:0}},
    plugins:{legend:{display:false}, tooltip:{enabled:false}},
    events:[],
    scales:{
      x:{
        type:'linear', min:-5.07, max:3.77,
        afterBuildTicks:s=>{s.ticks=xGridValues.map(v=>({value:v}));},
        afterFit:s=>{s.height=72; s.paddingLeft=0; s.paddingRight=0;},
        ticks:{
          autoSkip:false, maxRotation:0, padding:3, color:'#1a1a1a',
          font:{family:FONT,size:23},
          callback:(v)=>{const r=Math.round(v);return xTickLabels.includes(r)?String(r):'';}
        },
        grid:{
          color:'#e6e6e6', lineWidth:2, tickLength:8, tickWidth:2,
          tickColor:(c)=>{const t=c.tick;return (t && xTickLabels.includes(Math.round(t.value)))?'#333':'rgba(0,0,0,0)';}
        },
        border:{display:false},
        title:{display:true, text:'SHAP Contribution', color:'#000', font:{family:FONT,size:28,lineHeight:1.0}, padding:{top:0,bottom:0}}
      },
      y:{
        type:'linear', reverse:true, min:0.4, max:19.6,
        afterBuildTicks:s=>{s.ticks=featureNames.map((_,i)=>({value:i+1}));},
        afterFit:s=>{s.width=265; s.paddingTop=0; s.paddingBottom=0;},
        ticks:{
          autoSkip:false, padding:5, color:'#1a1a1a',
          font:{family:FONT,size:23},
          callback:(v)=>featureNames[Math.round(v)-1]||''
        },
        grid:{color:'#e6e6e6', lineWidth:2, tickLength:8, tickWidth:2, tickColor:'#333'},
        border:{display:false},
        title:{display:true, text:'Feature', color:'#000', font:{family:FONT,size:28,lineHeight:1.0}, padding:{top:3,bottom:0}}
      }
    }
  },
  plugins:[zeroLine, panelBorder, colourLegend]
});
</script>
</body>
</html>
